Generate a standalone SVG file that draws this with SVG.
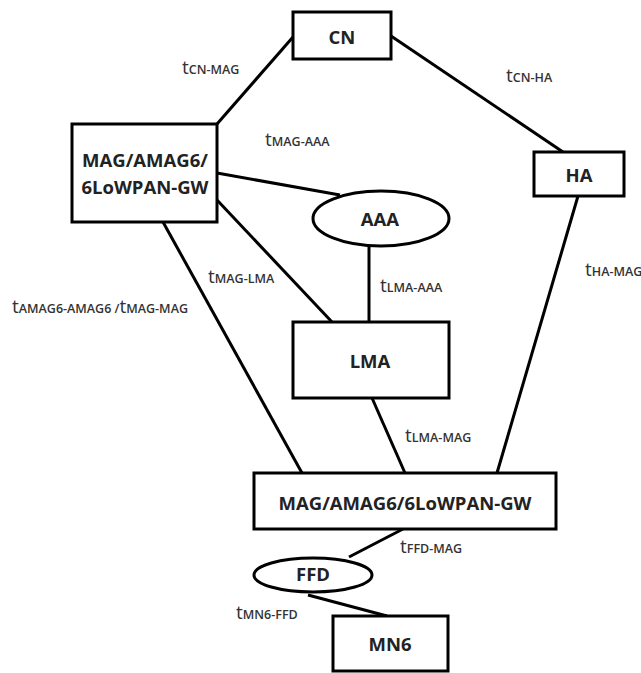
<svg xmlns="http://www.w3.org/2000/svg" width="641" height="673" viewBox="0 0 641 673">
<style>
.box{fill:#fff;stroke:#000;stroke-width:3}
.ln{stroke:#000;stroke-width:3;fill:none}
.nt{font-family:"Open Sans","Liberation Sans",sans-serif;font-weight:bold;font-size:18.5px;fill:#222;text-anchor:middle;dominant-baseline:central}
.lb{font-family:"Open Sans","Liberation Sans",sans-serif;font-size:19px;fill:#333}
.sb{font-size:12.5px;font-weight:600}
</style>
<rect width="641" height="673" fill="#fff"/>
<g id="connectors">
<line class="ln" x1="293" y1="37" x2="217" y2="124"/>
<line class="ln" x1="391" y1="36" x2="563" y2="152"/>
<line class="ln" x1="217" y1="173" x2="340" y2="195"/>
<line class="ln" x1="217" y1="200" x2="332" y2="322"/>
<line class="ln" x1="163" y1="222" x2="302" y2="473"/>
<line class="ln" x1="369" y1="246" x2="369" y2="322"/>
<line class="ln" x1="578" y1="196" x2="497" y2="473"/>
<line class="ln" x1="372" y1="398" x2="405" y2="473"/>
<line class="ln" x1="403" y1="529" x2="349" y2="557"/>
<line class="ln" x1="308" y1="595" x2="387" y2="616"/>
</g>
<g id="CN"><rect class="box" x="293" y="12" width="98" height="47"/><text class="nt" x="342" y="36">CN</text></g>
<g id="MAG1"><rect class="box" x="72" y="124" width="145" height="98"/><text class="nt" x="145" y="159">MAG/AMAG6/</text><text class="nt" x="145" y="186">6LoWPAN-GW</text></g>
<g id="HA"><rect class="box" x="534" y="152" width="90" height="44"/><text class="nt" x="579" y="174">HA</text></g>
<g id="AAA"><ellipse class="box" cx="381" cy="218.5" rx="68" ry="27.5"/><text class="nt" x="380" y="218">AAA</text></g>
<g id="LMA"><rect class="box" x="293" y="322" width="156" height="76"/><text class="nt" x="370" y="360">LMA</text></g>
<g id="MAG2"><rect class="box" x="254" y="473" width="302" height="56"/><text class="nt" x="405" y="502">MAG/AMAG6/6LoWPAN-GW</text></g>
<g id="FFD"><ellipse class="box" cx="313" cy="575" rx="59" ry="17"/><text class="nt" x="313" y="573">FFD</text></g>
<g id="MN6"><rect class="box" x="333" y="616" width="115" height="55"/><text class="nt" x="390" y="643">MN6</text></g>
<g id="labels">
<text class="lb" x="182" y="74">t<tspan class="sb">CN-MAG</tspan></text>
<text class="lb" x="506" y="82">t<tspan class="sb">CN-HA</tspan></text>
<text class="lb" x="265" y="146">t<tspan class="sb">MAG-AAA</tspan></text>
<text class="lb" x="208" y="283">t<tspan class="sb">MAG-LMA</tspan></text>
<text class="lb" x="12" y="313">t<tspan class="sb">AMAG6-AMAG6 /</tspan>t<tspan class="sb">MAG-MAG</tspan></text>
<text class="lb" x="380" y="292">t<tspan class="sb">LMA-AAA</tspan></text>
<text class="lb" x="585" y="276">t<tspan class="sb">HA-MAG</tspan></text>
<text class="lb" x="405" y="442">t<tspan class="sb">LMA-MAG</tspan></text>
<text class="lb" x="400" y="553">t<tspan class="sb">FFD-MAG</tspan></text>
<text class="lb" x="236" y="619">t<tspan class="sb">MN6-FFD</tspan></text>
</g>
</svg>
